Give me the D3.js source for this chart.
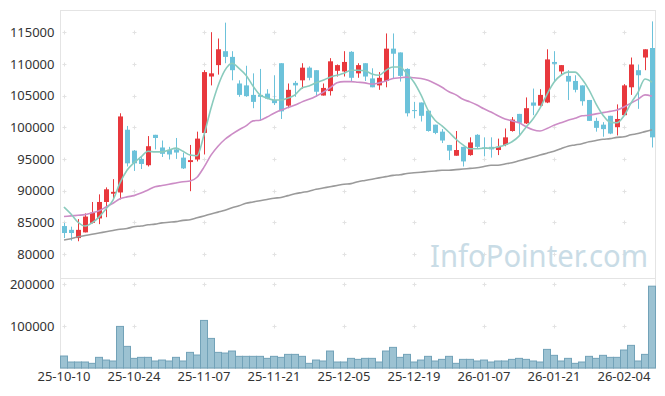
<!DOCTYPE html>
<html>
<head>
<meta charset="utf-8">
<script src="https://cdn.jsdelivr.net/npm/d3@7"></script>
<style>
  body { margin: 0; background: #fff; }
  text { font-family: "Noto Sans", sans-serif; }
</style>
</head>
<body>
<div id="chart"></div>
<script>
// daily candles, 85 trading days (25-10-10 .. 26-02-10)
var opens  = [84400,83800,82500,83400,84900,85600,88200,89500,89700,99600,
              96300,95000,94000,98800,96800,96400,96500,95200,94500,94900,
              99100,108000,109800,112000,111100,106900,106600,105100,105100,105300,
              104300,110100,103400,107000,107400,109400,109000,105000,105700,108900,
              108800,111900,108500,110100,107700,106600,107300,112400,111800,109200,
              102700,103900,102600,100400,99300,97200,95500,96900,95600,98800,
              96800,96900,96400,97200,99400,102100,100600,103900,103400,103900,
              110300,108800,108100,107300,106600,104300,101000,100400,101800,100000,
              101900,106300,109000,111000,112500];
var highs  = [84900,84300,85500,86400,88200,89400,90500,91800,102200,100200,
              96400,95300,98600,98800,97900,96900,98300,96000,97200,99300,
              109000,115000,114000,116500,112000,107400,109700,108500,109200,106000,
              108200,110100,106900,107300,110100,109600,109000,106900,110900,109900,
              112000,112000,110100,110100,109300,108700,114800,114800,111800,109300,
              104000,103900,102600,100400,99700,97200,99400,96900,98400,98900,
              98400,98400,98200,99800,101600,102100,104700,106100,106000,112300,
              112000,109800,109000,108200,106600,104300,101500,100800,101800,103600,
              106800,111000,109900,112300,116700];
var lows   = [82500,82100,82000,83400,84800,84700,85800,88500,88600,93800,
              93100,93400,93800,96500,95300,94900,95000,93400,89900,94600,
              95700,106600,108300,110100,107400,104800,104800,103000,101000,104400,
              103500,101300,103000,104800,106100,107400,104800,105000,105000,108000,
              108000,107200,107800,107300,106300,105900,106300,107700,107200,101700,
              101400,100900,99300,98900,97500,94800,95500,93800,95500,96700,
              95400,95200,95600,97000,99300,98800,100500,101900,103300,103800,
              107300,108300,104300,105500,103400,101000,99300,98500,98900,98700,
              101900,105100,102900,109000,96800];
var closes = [83300,83300,83800,85900,86500,88200,90200,89800,101700,94300,
              94300,94200,97000,98300,95800,95700,96000,93500,94800,98200,
              108700,108500,112300,111100,109000,105100,104900,104000,104800,104500,
              103800,102500,105900,106600,109400,107800,105600,106200,110400,109800,
              110300,107800,109800,108000,106300,107800,112400,111600,108100,102200,
              102600,101800,99400,99100,97900,96300,96400,94600,97600,96900,
              96600,96500,96900,98400,101200,100700,103000,103400,105100,110700,
              110000,109800,107200,105900,104100,101000,99900,99700,99000,101300,
              106600,109900,108200,112300,98400];
var volumes = [28600,14300,14300,14300,11100,25400,19000,16700,99200,51600,
               23000,25400,25400,16700,19000,16700,25400,16700,37300,31000,
               113500,70600,37300,35700,40500,27800,27800,27800,27800,23000,
               27800,25400,32500,32500,27800,11100,19000,16700,40500,14300,
               14300,23000,20600,23000,23000,14300,40500,49200,25400,32500,
               14300,19000,27800,16700,20600,27800,11100,20600,20600,16700,
               19000,14300,16700,16700,20600,23000,20600,16700,14300,44400,
               30200,16700,23000,11100,14300,27800,23000,30200,25400,25400,
               42900,54000,16700,32500,195200];

// moving averages as drawn (5 / 20 / long)
var ma5  = [87400,86300,85000,84400,84900,85800,87100,88500,91200,93200,
            94400,95300,96200,96100,96100,96400,96700,96200,95600,95500,
            98800,103000,106500,109000,110100,109300,108200,106500,105100,104600,
            104300,104300,104600,105100,106200,106500,107000,107400,107900,108200,
            108500,109000,109000,108900,108400,108200,109000,109500,109500,108400,
            107100,105100,102700,101100,100200,99200,98100,97200,96600,96600,
            96700,96700,96900,97200,97700,98600,100000,101300,103000,105200,
            107100,108200,108700,108700,107600,105900,103700,101900,100800,100700,
            101800,103800,105500,107600,107100];
var ma20 = [85900,86000,86100,86200,86500,86800,87400,88000,88700,89000,
            89200,89600,90100,90600,90800,91000,91200,91400,91500,92100,
            93700,95600,97000,98100,98900,99600,100200,101000,101100,101600,
            102200,102700,103100,103500,104000,104400,104900,105500,106200,107000,
            107200,107200,107100,107000,106800,107000,107300,107700,107800,107900,
            107800,107700,107400,106900,106300,105600,105100,104400,104000,103500,
            102900,102400,101800,101300,101000,100700,100100,99600,99400,99800,
            100300,100700,101100,101400,101800,101900,102100,102300,102500,102700,
            103200,103800,104400,105100,104900];
var maLong = [82200,82400,82700,82900,83100,83300,83500,83700,83900,84000,
              84300,84400,84600,84700,84900,85000,85100,85300,85400,85700,
              86000,86300,86600,86900,87300,87600,88000,88200,88400,88600,
              88800,88900,89200,89500,89700,89900,90200,90400,90600,90800,
              91000,91100,91400,91600,91800,92000,92200,92400,92500,92700,
              92800,92900,93000,93100,93200,93200,93300,93400,93500,93600,
              93800,94000,94000,94200,94400,94700,95000,95300,95600,95900,
              96200,96600,97000,97200,97400,97700,97900,98100,98200,98400,
              98500,98800,99000,99300,99600];

// x labels, one every 10 candles
var tickLabels = ["25-10-10","25-10-24","25-11-07","25-11-21","25-12-05",
                  "25-12-19","26-01-07","26-01-21","26-02-04"];
var priceTicks = [80000,85000,90000,95000,100000,105000,110000,115000];
var volTicks = [100000, 200000];

var svgWidth = 665;
var svgHeight = 396;

// panel edges
var left = 60.5, right = 655.5;
var priceTop = 10, priceBottom = 278, volBottom = 368;

var svg = d3.select("#chart")
  .append("svg")
  .attr("width", svgWidth)
  .attr("height", svgHeight);

var idx = d3.range(closes.length);

var xScale = d3.scaleBand()
  .domain(idx)
  .range([left, right]);

function xc(i) { return xScale(i) + xScale.bandwidth() / 2; }

var yScale = d3.scaleLinear()
  .domain([76200, 118500])
  .range([priceBottom, priceTop]);

var volScale = d3.scaleLinear()
  .domain([0, d3.max(volumes) * 1.1])
  .range([volBottom, priceBottom]);

var tickIdx = tickLabels.map((d, i) => i * 10);

// frame
var frame = svg.append("g")
  .attr("stroke", "#e4e4e4")
  .attr("fill", "none");
frame.append("rect")
  .attr("x", left).attr("y", priceTop + 0.5)
  .attr("width", right - left).attr("height", volBottom - priceTop);
frame.append("line")
  .attr("x1", left).attr("x2", right)
  .attr("y1", priceBottom + 0.5).attr("y2", priceBottom + 0.5);

// little "+" markers at grid crossings
var crosses = svg.append("g").attr("stroke", "#e2e2e2");
function addCrosses(vals, scale) {
  tickIdx.forEach(function(i) {
    vals.forEach(function(v) {
      var x = Math.round(xc(i)) + 0.5, y = Math.round(scale(v)) + 0.5;
      crosses.append("line").attr("x1", x - 2).attr("x2", x + 2).attr("y1", y).attr("y2", y);
      crosses.append("line").attr("x1", x).attr("x2", x).attr("y1", y - 2).attr("y2", y + 2);
    });
  });
}
addCrosses(priceTicks, yScale);
addCrosses(volTicks, volScale);

// watermark
svg.append("text")
  .attr("x", 430)
  .attr("y", 267)
  .attr("font-size", 30)
  .attr("textLength", 218)
  .attr("lengthAdjust", "spacingAndGlyphs")
  .attr("fill", "#c9dce6")
  .text("InfoPointer.com");

// volume bars
svg.append("g")
  .selectAll("rect")
  .data(volumes)
  .enter()
  .append("rect")
  .attr("x", (d, i) => xScale(i))
  .attr("y", d => volScale(d))
  .attr("width", xScale.bandwidth())
  .attr("height", d => volBottom - volScale(d))
  .attr("fill", "#9cc2d2")
  .attr("stroke", "#72a2b8")
  .attr("stroke-width", 1);

// candles
var upColor = "#e8383d", downColor = "#6cc2da";
var candles = svg.append("g")
  .selectAll("g")
  .data(idx)
  .enter()
  .append("g")
  .attr("fill", i => closes[i] >= opens[i] ? upColor : downColor)
  .attr("stroke", i => closes[i] >= opens[i] ? upColor : downColor);

candles.append("line")
  .attr("x1", i => Math.round(xc(i)) + 0.5)
  .attr("x2", i => Math.round(xc(i)) + 0.5)
  .attr("y1", i => yScale(highs[i]))
  .attr("y2", i => yScale(lows[i]))
  .attr("stroke-width", 1);

candles.append("rect")
  .attr("x", i => Math.round(xc(i)) - 2)
  .attr("y", i => yScale(Math.max(opens[i], closes[i])))
  .attr("width", 5)
  .attr("height", i => Math.max(1, Math.abs(yScale(opens[i]) - yScale(closes[i]))))
  .attr("stroke", "none");

// moving average lines
var maLine = d3.line()
  .x((d, i) => xc(i))
  .y(d => yScale(d))
  .curve(d3.curveMonotoneX);

[[maLong, "#9a9a9a"], [ma20, "#cc8cc6"], [ma5, "#8acbbd"]].forEach(function(m) {
  svg.append("path")
    .datum(m[0])
    .attr("d", maLine)
    .attr("fill", "none")
    .attr("stroke", m[1])
    .attr("stroke-width", 1.6);
});

// axes
var yAxis = svg.append("g")
  .attr("transform", `translate(${left},0)`)
  .call(d3.axisLeft(yScale).tickValues(priceTicks).tickSize(0).tickPadding(6).tickFormat(d3.format("d")));

var vAxis = svg.append("g")
  .attr("transform", `translate(${left},0)`)
  .call(d3.axisLeft(volScale).tickValues(volTicks).tickSize(0).tickPadding(6).tickFormat(d3.format("d")));

var xAxis = svg.append("g")
  .attr("transform", `translate(0,${volBottom})`)
  .call(d3.axisBottom(xScale).tickValues(tickIdx).tickSize(0).tickPadding(4)
    .tickFormat((d, i) => tickLabels[i]));

[yAxis, vAxis, xAxis].forEach(function(a) {
  a.select(".domain").remove();
  a.selectAll("text")
    .attr("font-size", 13)
    .attr("font-family", "Noto Sans, sans-serif")
    .attr("fill", "#333");
});
</script>
</body>
</html>
